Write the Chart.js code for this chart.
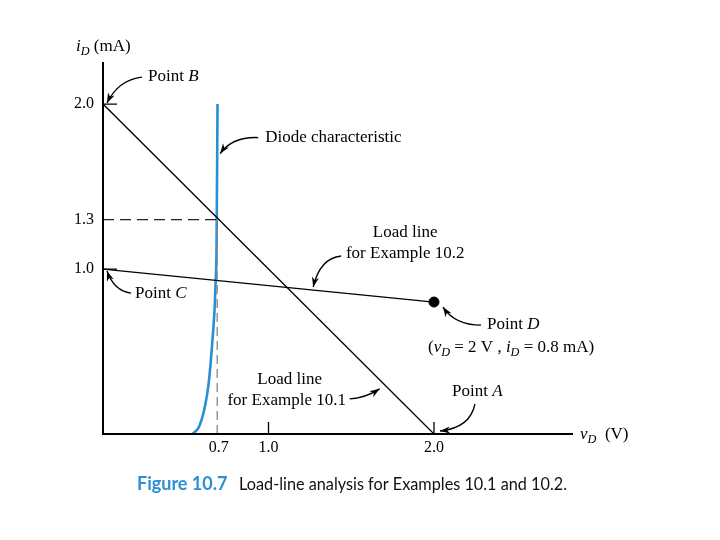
<!DOCTYPE html>
<html>
<head>
<meta charset="utf-8">
<script src="https://cdn.jsdelivr.net/npm/chart.js@4"></script>
<style>
  body { margin: 0; background: #fff; }
  #wrap { width: 720px; height: 540px; }
</style>
</head>
<body>
<div id="wrap"><canvas id="c" width="720" height="540"></canvas></div>
<script>
// === DATA ===
const X_TICKS = [0.7, 1.0, 2.0];
const X_TICK_LABELS = ['0.7', '1.0', '2.0'];
const Y_TICKS = [1.0, 1.3, 2.0];
const Y_TICK_LABELS = ['1.0', '1.3', '2.0'];

// diode characteristic i_D (mA) vs v_D (V)
const DIODE_V = [0.54, 0.576, 0.596, 0.616, 0.636, 0.652, 0.666, 0.675, 0.681, 0.686, 0.692];
const DIODE_I = [0.0, 0.035, 0.087, 0.166, 0.287, 0.448, 0.630, 0.771, 0.933, 1.115, 2.0];

// load lines
const LOAD1_V = [0, 2.0];
const LOAD1_I = [2.0, 0];
const LOAD2_V = [0, 2.0];
const LOAD2_I = [1.0, 0.8];

// operating point of Example 10.1 and point D
const Q_V = 0.69, Q_I = 1.3;
const POINT_D = [2.0, 0.8];

const X_MAX = 2.84, Y_MAX = 2.255;

const SERIF = '"Liberation Serif", "DejaVu Serif", serif';
const SANS = 'Lato, "Open Sans", sans-serif';
const BLUE = '#2a8fd4';
const FS = 17; // callout text size

const pts = (xs, ys) => xs.map((x, i) => ({ x, y: ys[i] }));

// === TEXT HELPERS ===
function rich(ctx, parts, x, y, size, align) {
  const fontOf = p => (p.it ? 'italic ' : '') + (p.sub ? size * 0.72 : size) + 'px ' + SERIF;
  let w = 0;
  parts.forEach(p => { ctx.font = fontOf(p); w += ctx.measureText(p.t).width; });
  let cx = align === 'center' ? x - w / 2 : align === 'right' ? x - w : x;
  ctx.textAlign = 'left';
  ctx.textBaseline = 'middle';
  parts.forEach(p => {
    ctx.font = fontOf(p);
    ctx.fillText(p.t, cx, y + (p.sub ? size * 0.3 : 0));
    cx += ctx.measureText(p.t).width;
  });
}

function arrow(ctx, x0, y0, cx, cy, x1, y1) {
  ctx.beginPath();
  ctx.moveTo(x0, y0);
  ctx.quadraticCurveTo(cx, cy, x1, y1);
  ctx.lineWidth = 1.3;
  ctx.stroke();
  const a = Math.atan2(y1 - cy, x1 - cx);
  const L = 10, W = 3.6;
  ctx.beginPath();
  ctx.moveTo(x1, y1);
  ctx.lineTo(x1 - L * Math.cos(a) + W * Math.sin(a), y1 - L * Math.sin(a) - W * Math.cos(a));
  ctx.lineTo(x1 - L * 0.7 * Math.cos(a), y1 - L * 0.7 * Math.sin(a));
  ctx.lineTo(x1 - L * Math.cos(a) - W * Math.sin(a), y1 - L * Math.sin(a) + W * Math.cos(a));
  ctx.closePath();
  ctx.fill();
}

// === AXES, TICKS, LABELS, CALLOUTS ===
const decor = {
  id: 'decor',
  afterDatasetsDraw(chart) {
    const ctx = chart.ctx;
    const xs = v => chart.scales.x.getPixelForValue(v);
    const ys = v => chart.scales.y.getPixelForValue(v);
    const a = chart.chartArea;
    ctx.save();
    ctx.strokeStyle = '#000';
    ctx.fillStyle = '#000';

    // axes
    ctx.lineWidth = 2;
    ctx.beginPath();
    ctx.moveTo(a.left, a.top);
    ctx.lineTo(a.left, a.bottom);
    ctx.lineTo(a.right, a.bottom);
    ctx.stroke();

    // tick marks
    ctx.lineWidth = 1.3;
    ctx.beginPath();
    [1.0, 2.0].forEach(v => { ctx.moveTo(a.left, ys(v)); ctx.lineTo(a.left + 14, ys(v)); });
    [1.0, 2.0].forEach(v => { ctx.moveTo(xs(v), a.bottom); ctx.lineTo(xs(v), a.bottom - 12); });
    ctx.stroke();

    // tick labels
    Y_TICKS.forEach((v, i) => rich(ctx, [{ t: Y_TICK_LABELS[i] }], a.left - 9, ys(v), 16, 'right'));
    X_TICKS.forEach((v, i) => rich(ctx, [{ t: X_TICK_LABELS[i] }], xs(v), a.bottom + 14, 16, 'center'));

    // axis titles
    rich(ctx, [{ t: 'i', it: true }, { t: 'D', it: true, sub: true }, { t: ' (mA)' }], 76, 47, 17, 'left');
    rich(ctx, [{ t: 'v', it: true }, { t: 'D', it: true, sub: true }, { t: '  (V)' }], a.right + 7, a.bottom + 1, 17, 'left');

    // Point B
    let p = [xs(0), ys(2.0)];
    arrow(ctx, p[0] + 39, p[1] - 27, p[0] + 15, p[1] - 24, p[0] + 4, p[1] - 1);
    rich(ctx, [{ t: 'Point ' }, { t: 'B', it: true }], p[0] + 45, p[1] - 28, FS, 'left');

    // Diode characteristic
    p = [xs(Q_V), ys(1.7)];
    arrow(ctx, p[0] + 41, p[1] - 16, p[0] + 15, p[1] - 17, p[0] + 3, p[1]);
    rich(ctx, [{ t: 'Diode characteristic' }], p[0] + 48, p[1] - 16, FS, 'left');

    // Load line 10.2
    p = [xs(1.27), ys(1.0 - 0.1 * 1.27)];
    arrow(ctx, p[0] + 28, p[1] - 34, p[0] + 7, p[1] - 32, p[0], p[1] - 3);
    rich(ctx, [{ t: 'Load line' }], p[0] + 92, p[1] - 57, FS, 'center');
    rich(ctx, [{ t: 'for Example 10.2' }], p[0] + 92, p[1] - 36, FS, 'center');

    // Point C
    p = [xs(0), ys(1.0)];
    arrow(ctx, p[0] + 28, p[1] + 24, p[0] + 11, p[1] + 22, p[0] + 4, p[1] + 2);
    rich(ctx, [{ t: 'Point ' }, { t: 'C', it: true }], p[0] + 32, p[1] + 24, FS, 'left');

    // Point D
    p = [xs(POINT_D[0]), ys(POINT_D[1])];
    arrow(ctx, p[0] + 47, p[1] + 23, p[0] + 21, p[1] + 23, p[0] + 9, p[1] + 5);
    rich(ctx, [{ t: 'Point ' }, { t: 'D', it: true }], p[0] + 53, p[1] + 23, FS, 'left');
    rich(ctx, [{ t: '(' }, { t: 'v', it: true }, { t: 'D', it: true, sub: true }, { t: ' = 2 V , ' },
               { t: 'i', it: true }, { t: 'D', it: true, sub: true }, { t: ' = 0.8 mA)' }],
         p[0] - 6, p[1] + 46, FS, 'left');

    // Point A
    p = [xs(2.0), ys(0)];
    arrow(ctx, p[0] + 41, p[1] - 30, p[0] + 36, p[1] - 6, p[0] + 6, p[1] - 3);
    rich(ctx, [{ t: 'Point ' }, { t: 'A', it: true }], p[0] + 18, p[1] - 42, FS, 'left');

    // Load line 10.1
    p = [xs(1.69), ys(2.0 - 1.69)];
    arrow(ctx, p[0] - 33, p[1] + 16, p[0] - 17, p[1] + 15, p[0] - 3, p[1] + 6);
    rich(ctx, [{ t: 'Load line' }], p[0] - 93, p[1] - 3, FS, 'center');
    rich(ctx, [{ t: 'for Example 10.1' }], p[0] - 96, p[1] + 18, FS, 'center');

    // caption
    ctx.textAlign = 'left';
    ctx.textBaseline = 'middle';
    ctx.font = 'bold 18px ' + SANS;
    ctx.fillStyle = BLUE;
    ctx.fillText('Figure 10.7', 137, 484, 95);
    ctx.font = '18px ' + SANS;
    ctx.fillStyle = '#111';
    ctx.fillText('Load-line analysis for Examples 10.1 and 10.2.', 239, 484, 328);
    ctx.restore();
  }
};

new Chart(document.getElementById('c'), {
  type: 'scatter',
  data: {
    datasets: [
      { data: [{ x: 0, y: Q_I }, { x: Q_V, y: Q_I }], showLine: true, borderColor: '#222',
        borderWidth: 1.3, borderDash: [11, 6], pointRadius: 0 },
      { data: [{ x: Q_V, y: 0 }, { x: Q_V, y: Q_I }], showLine: true, borderColor: '#888',
        borderWidth: 1.3, borderDash: [9, 5], pointRadius: 0 },
      { data: pts(LOAD1_V, LOAD1_I), showLine: true, borderColor: '#000', borderWidth: 1.3, pointRadius: 0 },
      { data: pts(LOAD2_V, LOAD2_I), showLine: true, borderColor: '#000', borderWidth: 1.3, pointRadius: 0 },
      { data: pts(DIODE_V, DIODE_I), showLine: true, borderColor: BLUE, borderWidth: 2.6,
        cubicInterpolationMode: 'monotone', pointRadius: 0 },
      { data: [{ x: POINT_D[0], y: POINT_D[1] }], pointRadius: 5, backgroundColor: '#000', borderColor: '#000' }
    ]
  },
  options: {
    responsive: false,
    animation: false,
    layout: { padding: { left: 103, right: 147, top: 62, bottom: 106 } },
    plugins: { legend: { display: false }, tooltip: { enabled: false } },
    scales: {
      x: { type: 'linear', min: 0, max: X_MAX, display: false },
      y: { type: 'linear', min: 0, max: Y_MAX, display: false }
    }
  },
  plugins: [decor]
});
</script>
</body>
</html>
